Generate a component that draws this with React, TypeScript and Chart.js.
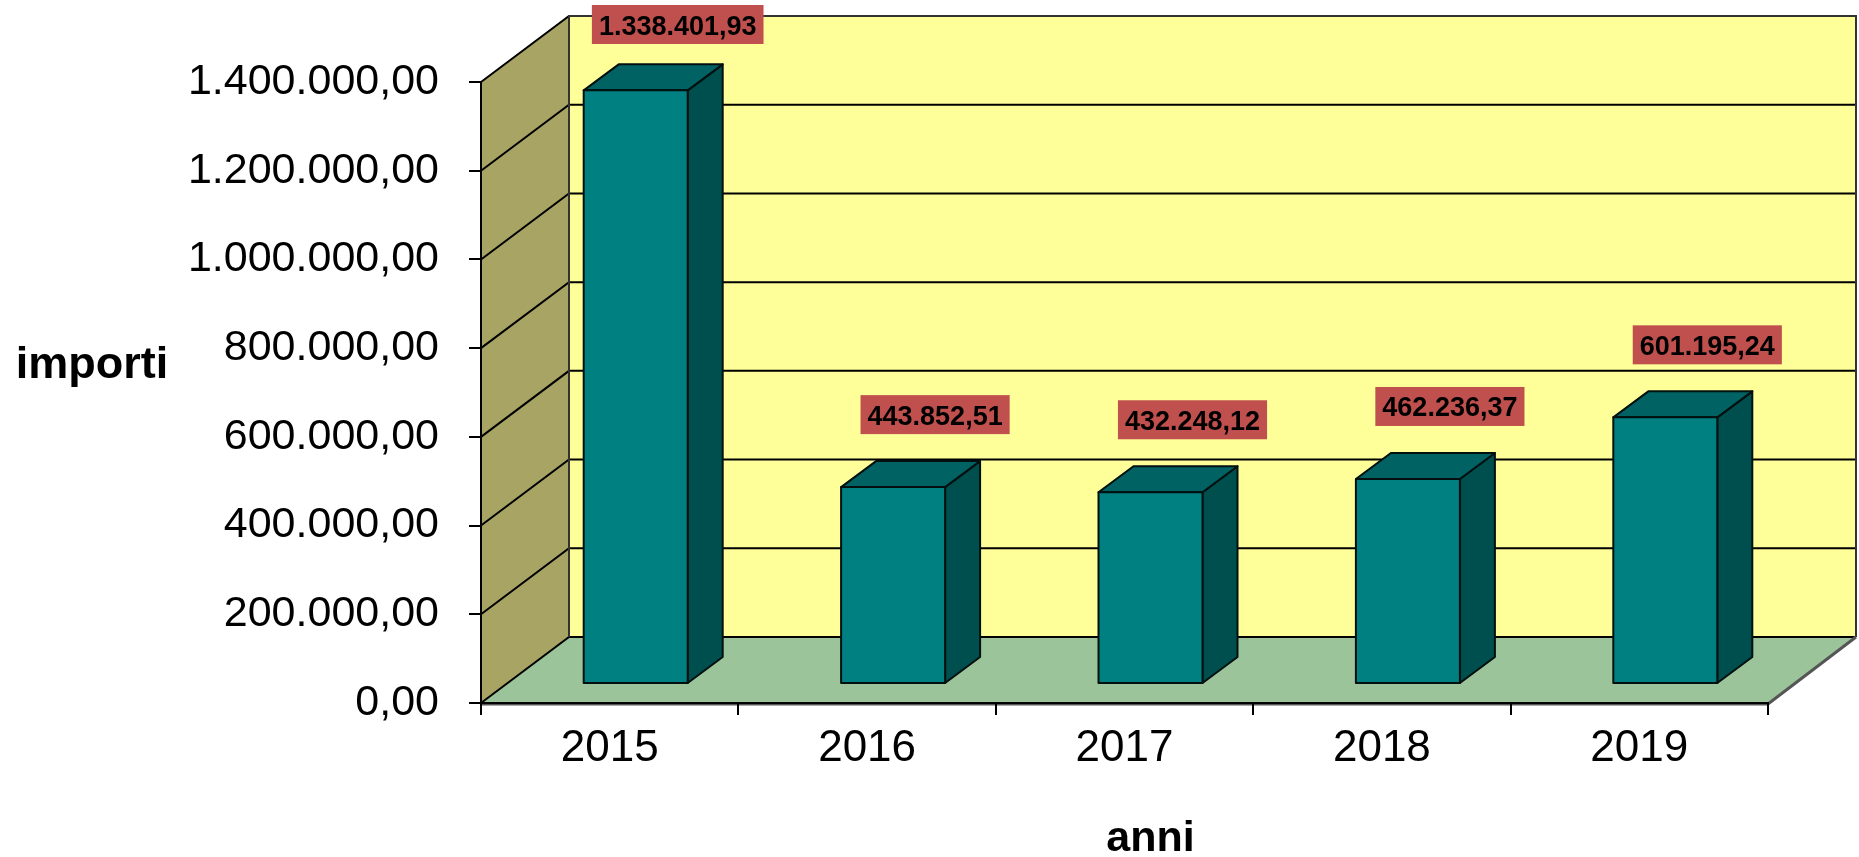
import React, { useEffect, useRef } from "react";
import { Chart, registerables } from "chart.js";

Chart.register(...registerables);

// ---- data ----
const CATEGORIES = ["2015", "2016", "2017", "2018", "2019"];
const VALUES = [1338401.93, 443852.51, 432248.12, 462236.37, 601195.24];
const Y_TICKS = [0, 200000, 400000, 600000, 800000, 1000000, 1200000, 1400000];
const Y_TITLE = "importi";
const X_TITLE = "anni";

// ---- styles / geometry ----
const W = 1859;
const H = 857;
const FONT = '"Liberation Sans", Arial, Helvetica, sans-serif';
const WALL_DX = 88;
const WALL_DY = 66;
const BAR_OFF_X = 26;
const BAR_OFF_Y = 19;
const BAR_DX = 35;
const BAR_DY = 26;

const COL_BACK = "#FFFF99";
const COL_SIDE_WALL = "#A8A464";
const COL_FLOOR = "#9CC49B";
const COL_BAR_FRONT = "#008080";
const COL_BAR_TOP = "#006262";
const COL_BAR_SIDE = "#004F4F";
const COL_LABEL = "#C0504D";

function fmtIt(v: number): string {
  const neg = v < 0;
  const [i, d] = Math.abs(v).toFixed(2).split(".");
  const g = i.replace(/\B(?=(\d{3})+(?!\d))/g, ".");
  return (neg ? "-" : "") + g + "," + d;
}

function poly(ctx: CanvasRenderingContext2D, pts: number[][], fill: string | null, stroke: string | null, lw = 2) {
  ctx.beginPath();
  ctx.moveTo(pts[0][0], pts[0][1]);
  for (let k = 1; k < pts.length; k++) ctx.lineTo(pts[k][0], pts[k][1]);
  ctx.closePath();
  if (fill) {
    ctx.fillStyle = fill;
    ctx.fill();
  }
  if (stroke) {
    ctx.strokeStyle = stroke;
    ctx.lineWidth = lw;
    ctx.lineJoin = "round";
    ctx.stroke();
  }
}

const walls3D = {
  id: "walls3D",
  beforeDraw(chart: any) {
    const ctx: CanvasRenderingContext2D = chart.ctx;
    const { left, right, top, bottom } = chart.chartArea;
    const yScale = chart.scales.y;
    ctx.save();
    // back wall
    poly(ctx, [[left + WALL_DX, top - WALL_DY], [right + WALL_DX, top - WALL_DY], [right + WALL_DX, bottom - WALL_DY], [left + WALL_DX, bottom - WALL_DY]], COL_BACK, null);
    // left side wall
    poly(ctx, [[left, top], [left + WALL_DX, top - WALL_DY], [left + WALL_DX, bottom - WALL_DY], [left, bottom]], COL_SIDE_WALL, null);
    // floor
    poly(ctx, [[left, bottom], [left + WALL_DX, bottom - WALL_DY], [right + WALL_DX, bottom - WALL_DY], [right, bottom]], COL_FLOOR, null);

    // gridlines
    ctx.strokeStyle = "#000";
    ctx.lineWidth = 2;
    yScale.ticks.forEach((t: any) => {
      const yp = yScale.getPixelForValue(t.value);
      ctx.beginPath();
      ctx.moveTo(left, yp);
      ctx.lineTo(left + WALL_DX, yp - WALL_DY);
      ctx.lineTo(right + WALL_DX, yp - WALL_DY);
      ctx.stroke();
    });

    // wall outlines
    ctx.strokeStyle = "#333";
    ctx.lineWidth = 2;
    ctx.beginPath();
    ctx.moveTo(left + WALL_DX, bottom - WALL_DY);
    ctx.lineTo(left + WALL_DX, top - WALL_DY);
    ctx.lineTo(right + WALL_DX, top - WALL_DY);
    ctx.lineTo(right + WALL_DX, bottom - WALL_DY);
    ctx.stroke();
    ctx.lineWidth = 3;
    ctx.strokeStyle = "#555";
    ctx.beginPath();
    ctx.moveTo(left, bottom + 1);
    ctx.lineTo(right, bottom + 1);
    ctx.lineTo(right + WALL_DX, bottom - WALL_DY);
    ctx.stroke();
    ctx.restore();
  },
  afterDatasetsDraw(chart: any) {
    const ctx: CanvasRenderingContext2D = chart.ctx;
    const meta = chart.getDatasetMeta(0);
    ctx.save();
    const tops: number[] = [];
    const centers: number[] = [];
    meta.data.forEach((el: any) => {
      const { x, y, base, width } = el.getProps(["x", "y", "base", "width"], true);
      const l = x - width / 2 + BAR_OFF_X;
      const r = x + width / 2 + BAR_OFF_X;
      const t = y - BAR_OFF_Y;
      const b = base - BAR_OFF_Y;
      // side
      poly(ctx, [[r, b], [r + BAR_DX, b - BAR_DY], [r + BAR_DX, t - BAR_DY], [r, t]], COL_BAR_SIDE, "#021010");
      // top
      poly(ctx, [[l, t], [l + BAR_DX, t - BAR_DY], [r + BAR_DX, t - BAR_DY], [r, t]], COL_BAR_TOP, "#021010");
      // front
      poly(ctx, [[l, b], [l, t], [r, t], [r, b]], COL_BAR_FRONT, "#021010");
      tops.push(t - BAR_DY);
      centers.push((l + r) / 2);
    });

    // data labels
    const ds = chart.data.datasets[0];
    ctx.font = `bold 27px ${FONT}`;
    ctx.textAlign = "center";
    ctx.textBaseline = "alphabetic";
    ds.data.forEach((v: number, i: number) => {
      const txt = fmtIt(v);
      const tw = ctx.measureText(txt).width;
      const bw = tw + 14;
      const bh = 39;
      const cx = centers[i] + 42;
      let by = tops[i] - 27 - bh;
      if (by < 5) by = 5;
      ctx.fillStyle = COL_LABEL;
      ctx.fillRect(cx - bw / 2, by, bw, bh);
      ctx.fillStyle = "#000";
      ctx.fillText(txt, cx, by + bh / 2 + 10);
    });

    ctx.restore();
  },
  afterDraw(chart: any) {
    const ctx: CanvasRenderingContext2D = chart.ctx;
    ctx.save();
    ctx.fillStyle = "#000";
    ctx.textAlign = "center";
    ctx.textBaseline = "alphabetic";
    ctx.font = `bold 45px ${FONT}`;
    ctx.fillText(Y_TITLE, 92, 378);
    ctx.font = `bold 43px ${FONT}`;
    const { left, right } = chart.chartArea;
    ctx.fillText(X_TITLE, (left + right) / 2 + 26, 851);
    ctx.restore();
  },
};

export default function App() {
  const ref = useRef<HTMLCanvasElement | null>(null);

  useEffect(() => {
    if (!ref.current) return;
    const chart = new Chart(ref.current, {
      type: "bar",
      data: {
        labels: CATEGORIES,
        datasets: [
          {
            label: Y_TITLE,
            data: VALUES,
            backgroundColor: "rgba(0,0,0,0)",
            borderWidth: 0,
            categoryPercentage: 1,
            barPercentage: 0.404,
          },
        ],
      },
      options: {
        responsive: false,
        animation: false,
        events: [],
        layout: { padding: { top: 82, right: 91, left: 0, bottom: 0 } },
        plugins: {
          legend: { display: false },
          tooltip: { enabled: false },
          title: { display: false },
        },
        scales: {
          x: {
            type: "category",
            offset: true,
            grid: {
              display: true,
              offset: true,
              drawOnChartArea: false,
              drawTicks: true,
              tickLength: 12,
              color: "#000",
              lineWidth: 2,
            },
            border: { display: true, color: "#000", width: 2 },
            ticks: {
              font: { family: FONT, size: 44 },
              color: "#000",
              padding: 7,
              maxRotation: 0,
              autoSkip: false,
            },
            afterFit: (s: any) => {
              s.height = 154;
            },
          },
          y: {
            type: "linear",
            min: 0,
            max: 1400000,
            afterBuildTicks: (s: any) => {
              s.ticks = Y_TICKS.map((v) => ({ value: v }));
            },
            ticks: {
              callback: (v: any) => fmtIt(Number(v)),
              font: { family: FONT, size: 43 },
              color: "#000",
              padding: 30,
            },
            grid: {
              display: true,
              drawOnChartArea: false,
              drawTicks: true,
              tickLength: 12,
              color: "#000",
              lineWidth: 2,
            },
            border: { display: true, color: "#000", width: 2 },
            afterFit: (s: any) => {
              s.width = 481;
            },
          },
        },
      },
      plugins: [walls3D],
    });
    return () => chart.destroy();
  }, []);

  return (
    <div style={{ position: "absolute", left: 0, top: 0, width: W, height: H, background: "#fff" }}>
      <canvas ref={ref} width={W} height={H} style={{ display: "block", width: W, height: H }} />
    </div>
  );
}
